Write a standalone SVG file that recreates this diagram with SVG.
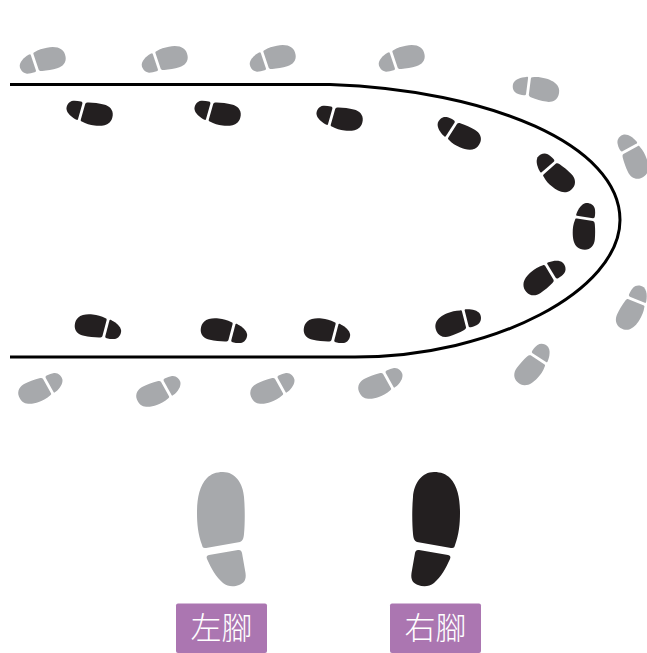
<svg xmlns="http://www.w3.org/2000/svg" width="647" height="653" viewBox="0 0 647 653">
<style>
.g{fill:#a7a9ac}.k{fill:#231f20}
.path{fill:none;stroke:#000;stroke-width:3}
.lb{fill:#ab76b1}
.t{font-family:"Noto Sans CJK TC","Noto Sans CJK SC",sans-serif;font-size:31px;font-weight:300;fill:#fff;text-anchor:middle}
</style>
<defs>
<g id="L">
<path d="M2,-58 C14,-58 22,-47 23,-33 C24,-22 24,-7 23,4 C22.500,9 21.500,11 19,12 L-15,18 C-18,18.500 -18.500,17 -19,15 C-23,4 -24,-6 -24,-17 C-24,-30 -22,-44 -14,-52 C-10,-56 -5,-58 2,-58Z"/>
<path d="M-12,25 L17,20 C19,19.500 20.500,20.500 21,23 L24.500,43 C25.500,50 23,53 18,55 C13,57 7,57 2,53 C-5,47 -10,38 -14,29 C-15,26.500 -14,25.500 -12,25Z"/>
</g>
<g id="l" transform="scale(.47,.41)">
<path d="M2,-58 C14,-58 22,-47 23,-33 C24,-22 24,-7 23,4 C22.500,9 21.500,11 19,12 L-15,18 C-18,18.500 -18.500,17 -19,15 C-23,4 -24,-6 -24,-17 C-24,-30 -22,-44 -14,-52 C-10,-56 -5,-58 2,-58Z"/>
<path d="M-15,25 L19,19 C21,18.700 22.500,20 23,23 C24,30 24,36 23,42 C21,52 12,57 4,56 C-5,54 -12,42 -16,30 C-17,27 -17,25.500 -15,25Z"/>
</g>
<use id="R" href="#L" transform="scale(-1,1)"/>
<use id="r" href="#l" transform="scale(-1,1)"/>
</defs>
<g id="connectors"><path class="path" d="M10,84.500 H330 C490,90 620,145 620,220 C620,290 495,357 355,357 H10"/></g>
<g id="left-steps" class="g">
<use href="#l" transform="translate(42,60) rotate(80)"/>
<use href="#l" transform="translate(164,59) rotate(80)"/>
<use href="#l" transform="translate(272,58) rotate(80)"/>
<use href="#l" transform="translate(401,58) rotate(80)"/>
<use href="#l" transform="translate(536,87.500) rotate(106)"/>
<use href="#l" transform="translate(633.500,155.500) rotate(160)"/>
<use href="#l" transform="translate(633.500,308) rotate(211)"/>
<use href="#l" transform="translate(534,365) rotate(222)"/>
<use href="#l" transform="translate(381.500,384) rotate(250)"/>
<use href="#l" transform="translate(273.500,389) rotate(250)"/>
<use href="#l" transform="translate(159.500,392) rotate(250)"/>
<use href="#l" transform="translate(41.500,389) rotate(250)"/>
</g>
<g id="right-steps" class="k">
<use href="#r" transform="translate(89,113.500) rotate(97)"/>
<use href="#r" transform="translate(217,113.500) rotate(97)"/>
<use href="#r" transform="translate(339,118.500) rotate(97)"/>
<use href="#r" transform="translate(458,134) rotate(114)"/>
<use href="#r" transform="translate(554,173.500) rotate(130)"/>
<use href="#r" transform="translate(584,226) rotate(180)"/>
<use href="#r" transform="translate(544,276) rotate(230)"/>
<use href="#r" transform="translate(458,321) rotate(247)"/>
<use href="#r" transform="translate(98.500,326.500) rotate(276)"/>
<use href="#r" transform="translate(224.500,330.500) rotate(276)"/>
<use href="#r" transform="translate(327.500,330.500) rotate(276)"/>
</g>
<g id="legend-left">
<use href="#L" class="g" transform="translate(221,530)"/>
<rect class="lb" x="176" y="603.500" width="91" height="49.500" rx="2"/>
<text class="t" x="221.500" y="639">左腳</text>
</g>
<g id="legend-right">
<use href="#R" class="k" transform="translate(436,530)"/>
<rect class="lb" x="390" y="603.500" width="91" height="49.500" rx="2"/>
<text class="t" x="435.500" y="639">右腳</text>
</g>
</svg>
